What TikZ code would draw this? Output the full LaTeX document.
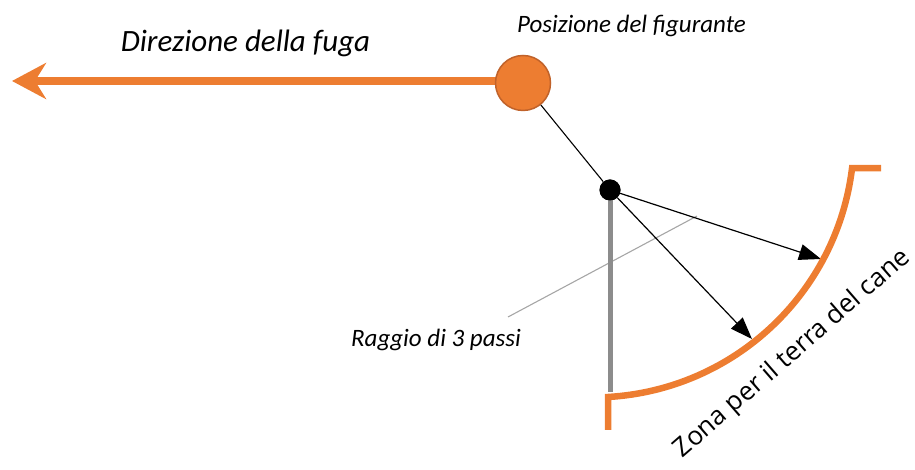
\documentclass[tikz,border=0pt]{standalone}
\usepackage{fontspec}
\setmainfont{Carlito}
\newfontfamily\zonafont{Open Sans}
\usetikzlibrary{arrows.meta}
\definecolor{orng}{HTML}{ED7D31}
\definecolor{orngdark}{HTML}{C0622A}
\definecolor{grayline}{HTML}{8C8C8C}
\definecolor{leadergray}{HTML}{A6A6A6}
\tikzset{
  lbl/.style={anchor=base, inner sep=0pt, font=\itshape},
  ptr/.style={black, line width=1.2pt, -{Triangle[length=22pt,width=16pt]}},
}
\begin{document}
\begin{tikzpicture}[x=1pt,y=1pt]
\useasboundingbox (0,0) rectangle (915,470);
% coordinates
\coordinate (figc) at (523,389);
\coordinate (tip) at (12,389);
\coordinate (grayend) at (610,78);
\coordinate (a1) at (821,211);
\coordinate (a2) at (752,131);
\coordinate (l1) at (508,153);
\coordinate (l2) at (697,254);
\coordinate (arcA) at (608,73);
\coordinate (arcB) at (608,40);
% escape arrow
\draw[orng, line width=8pt, -{Stealth[length=34pt,width=36pt,inset=11pt]}] (figc) -- (tip);
% figurant
\node[circle, fill=orng, draw=orngdark, line width=1.5pt, minimum size=55pt, inner sep=0pt] (fig) at (523,387) {};
% dot
\node[circle, fill=black, minimum size=21pt, inner sep=0pt] (dot) at (610,280) {};
\draw[black, line width=1.1pt] (fig) -- (dot);
% leader
\draw[leadergray, line width=1.1pt] (l1) -- (l2);
% gray radius
\draw[grayline, line width=5pt] (dot.center) -- (grayend);
\node[circle, fill=black, minimum size=21pt, inner sep=0pt] at (dot) {};
% arrows
\draw[ptr] (dot) -- (a1);
\draw[ptr] (dot) -- (a2);
% zone arc
\draw[orng, line width=6.5pt, line join=miter] (arcB) -- (arcA) arc[start angle=-86.7, end angle=-7, radius=261] -- ++(29,0) coordinate (tickend);
% labels
\node[lbl, font=\itshape\fontsize{31}{37}\selectfont] (dir) at (245.5,418) {Direzione della fuga};
\node[lbl, font=\itshape\fontsize{25}{30}\selectfont] (pos) at (631.5,437) {Posizione del figurante};
\node[lbl, font=\itshape\fontsize{25}{30}\selectfont] (rag) at (436,123) {Raggio di 3 passi};
\node[anchor=base, inner sep=0pt, rotate=41, font=\zonafont\fontsize{26}{31}\selectfont] (zona) at (797,111) {Zona per il terra del cane};
\end{tikzpicture}
\end{document}
